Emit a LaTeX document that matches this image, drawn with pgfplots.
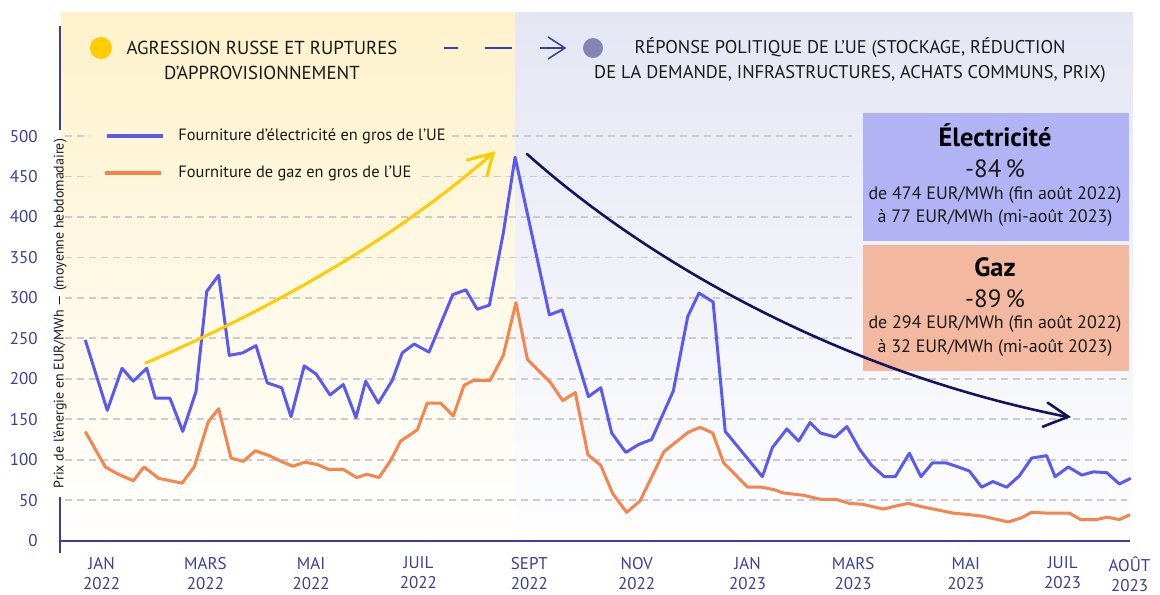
\documentclass[border=0pt]{standalone}
\usepackage{pgfplots}
\pgfplotsset{compat=1.18}
\usepackage{fontspec}
\setmainfont{PT Sans}
\definecolor{navy}{RGB}{59,62,154}
\definecolor{elec}{RGB}{90,90,242}
\definecolor{gas}{RGB}{245,132,77}
\definecolor{ylw}{RGB}{255,204,0}
\definecolor{darknavy}{RGB}{20,20,90}
\definecolor{elecbox}{RGB}{178,179,245}
\definecolor{gasbox}{RGB}{242,184,160}
\definecolor{purp}{RGB}{131,133,181}
\definecolor{ybg}{RGB}{254,242,203}
\definecolor{bbg}{RGB}{228,230,243}
\definecolor{gridc}{RGB}{204,204,204}
\definecolor{txt}{RGB}{26,26,26}
\begin{document}
\begin{tikzpicture}
\begin{scope}[x=0.5pt,y=-0.5pt]
\path[use as bounding box] (0,0) rectangle (1160,594);
\shade[top color=ybg, bottom color=white] (61,12) rectangle (515,545);
\shade[top color=bbg, bottom color=white!97!bbg] (515,12) rectangle (1133,545);
\end{scope}
\begin{axis}[
  at={(30pt,-270.3pt)}, anchor=south west,
  scale only axis, width=541.8pt, height=264.55pt,
  xmin=-9.659, xmax=606, ymin=0, ymax=654,
  axis line style={draw=none},
  major tick length=0pt,
  ytick={0,50,...,500},
  /pgf/number format/assume math mode=true,
  yticklabel style={font=\fontsize{8.5}{10}\selectfont, text=navy, anchor=east, inner sep=0pt, xshift=-11pt},
  xtick={14,73,133,194,257,318,381,441,505,560,598},
  xticklabels={JAN\\2022,MARS\\2022,MAI\\2022,JUIL\\2022,SEPT\\2022,NOV\\2022,JAN\\2023,MARS\\2023,MAI\\2023,JUIL\\2023,AOÛT\\2023},
  xticklabel style={font=\fontsize{8.5}{10}\selectfont, text=navy, align=center, anchor=north, inner sep=0pt, yshift=-8pt},
  clip=false,
]
% grid lines
\pgfplotsinvokeforeach{50,100,150,200}{
  \draw[gridc, line width=0.9pt, dash pattern=on 3.5pt off 2.5pt] (axis cs:-6.8,#1) -- (axis cs:596.6,#1);}
\pgfplotsinvokeforeach{250,300,350,400}{
  \draw[gridc, line width=0.9pt, dash pattern=on 3.5pt off 2.5pt] (axis cs:-6.8,#1) -- (axis cs:440.3,#1);}
\draw[gridc, line width=0.9pt, dash pattern=on 3.5pt off 2.5pt] (axis cs:-6.8,450) -- (axis cs:7.4,450);
\draw[gridc, line width=0.9pt, dash pattern=on 3.5pt off 2.5pt] (axis cs:196,450) -- (axis cs:440.3,450);
\draw[gridc, line width=0.9pt, dash pattern=on 3.5pt off 2.5pt] (axis cs:-6.8,500) -- (axis cs:7.4,500);
\draw[gridc, line width=0.9pt, dash pattern=on 3.5pt off 2.5pt] (axis cs:213,500) -- (axis cs:440.3,500);
% electricity
\addplot[elec, line width=1.5pt, line join=round] coordinates {
(4.7,248) (17.2,161) (25.6,213) (32.0,197) (39.6,213) (44.5,176) (52.8,176) (60.1,135) (67.6,184) (73.7,308) (80.5,328) (86.5,229) (94.1,232) (101.7,241) (108.1,195) (116.3,189) (121.6,153) (129.1,216) (135.8,206) (143.8,180) (151.3,193) (158.5,152) (164.0,197) (171.2,170) (179.1,198) (184.8,232) (191.5,243) (200.0,233) (213.5,304) (220.9,310) (227.4,286) (234.3,291) (242.2,380) (248.9,474) (268.4,279) (275.6,285) (290.6,178) (297.6,189) (303.8,133) (311.8,109) (319.3,119) (326.5,125) (338.8,185) (347.0,277) (353.4,306) (361.4,295) (368.3,135) (389.4,79) (395.1,115) (403.3,138) (410.0,123) (416.5,146) (422.4,133) (430.8,128) (437.4,141) (444.6,113) (451.5,93) (458.7,79) (464.9,79) (472.9,108) (479.5,79) (486.0,96) (493.8,96) (500.7,91) (507.0,86) (514.0,66) (520.3,73) (528.2,66) (535.4,80) (542.4,102) (550.9,105) (555.7,79) (563.2,91) (570.9,81) (577.4,85) (585.1,84) (592.2,70) (598.7,77)
};
% gas
\addplot[gas, line width=1.5pt, line join=round] coordinates {
(4.7,135) (16.1,91) (23.5,82) (32.0,74) (38.1,91) (46.4,77) (59.7,71) (66.6,91) (74.6,147) (80.5,163) (87.5,102) (94.5,98) (101.3,111) (109.3,105) (115.9,98) (122.6,92) (129.5,97) (136.5,94) (143.0,88) (151.3,88) (158.9,78) (164.6,82) (171.6,78) (178.2,99) (183.9,123) (193.4,137) (199.0,170) (206.6,170) (213.8,154) (219.9,192) (225.2,198) (234.7,198) (242.2,229) (249.4,294) (255.9,224) (268.8,196) (276.0,173) (283.1,183) (290.3,106) (297.6,93) (304.4,58) (312.3,35) (319.9,49) (333.5,110) (347.3,134) (354.0,140) (361.2,133) (367.4,96) (381.1,66) (388.8,66) (396.0,63) (401.1,59) (412.8,56) (422.4,51) (431.4,51) (438.8,46) (446.0,45) (458.1,39) (465.7,43) (472.2,46) (479.9,42) (486.5,39) (497.9,34) (507.4,32) (514.9,30) (529.1,23) (536.4,28) (542.4,35) (550.9,34) (563.8,34) (570.3,26) (579.4,26) (585.4,29) (592.2,26) (598.3,32)
};
\end{axis}
\begin{scope}[x=0.5pt,y=-0.5pt]
% axis lines
\draw[navy, line width=0.75pt] (60,541) -- (1130,541);
\draw[navy, line width=0.75pt] (60,26) -- (60,130);
\draw[navy, line width=0.75pt] (60,497) -- (60,553);
\node[rotate=90, font=\fontsize{7}{8}\selectfont, text=txt, inner sep=0pt] at (60,313.5) {Prix de l'énergie en EUR/MWh — (moyenne hebdomadaire)};
% legend
\draw[elec, line width=2pt] (107,136) -- (163,136);
\node[anchor=west, inner sep=0pt, font=\fontsize{8.2}{10}\selectfont, text=txt] at (178,136) {Fourniture d’électricité en gros de l’UE};
\draw[gas, line width=2pt] (105,173) -- (161,173);
\node[anchor=west, inner sep=0pt, font=\fontsize{8.2}{10}\selectfont, text=txt] at (178,173) {Fourniture de gaz en gros de l’UE};
% header
\fill[ylw] (101,48) circle (11);
\node[align=center, font=\fontsize{9.4}{12.5}\selectfont, text=txt, inner sep=0pt] at (262,60.5) {AGRESSION RUSSE ET RUPTURES\\D’APPROVISIONNEMENT};
\draw[navy, line width=0.75pt] (444,48) -- (458,48);
\draw[navy, line width=0.75pt] (485,48) -- (512,48);
\draw[navy, line width=0.75pt] (540,48) -- (565,48);
\draw[navy, line width=0.75pt] (548,37) -- (565,48) -- (548,59);
\fill[purp] (593,48) circle (10);
\node[align=center, font=\fontsize{9.2}{12.5}\selectfont, text=txt, inner sep=0pt] at (850,60.5) {RÉPONSE POLITIQUE DE L’UE (STOCKAGE, RÉDUCTION\\DE LA DEMANDE, INFRASTRUCTURES, ACHATS COMMUNS, PRIX)};
% boxes
\fill[elecbox] (863,113) rectangle (1129,241);
\fill[gasbox] (863,245) rectangle (1129,371);
\node[anchor=base, inner sep=0pt, font=\bfseries\fontsize{13.2}{15}\selectfont, text=black] at (995,146.5) {Électricité};
\node[anchor=base, inner sep=0pt, font=\fontsize{12.5}{13}\selectfont, text=txt] at (995,177) {-84\,\%};
\node[anchor=base, inner sep=0pt, font=\fontsize{9}{10}\selectfont, text=txt] at (995,199) {de 474 EUR/MWh (fin août 2022)};
\node[anchor=base, inner sep=0pt, font=\fontsize{9}{10}\selectfont, text=txt] at (995,222) {à 77 EUR/MWh (mi-août 2023)};
\node[anchor=base, inner sep=0pt, font=\bfseries\fontsize{13.2}{15}\selectfont, text=black] at (995,276.5) {Gaz};
\node[anchor=base, inner sep=0pt, font=\fontsize{12.5}{13}\selectfont, text=txt] at (995,307) {-89\,\%};
\node[anchor=base, inner sep=0pt, font=\fontsize{9}{10}\selectfont, text=txt] at (995,328) {de 294 EUR/MWh (fin août 2022)};
\node[anchor=base, inner sep=0pt, font=\fontsize{9}{10}\selectfont, text=txt] at (995,352) {à 32 EUR/MWh (mi-août 2023)};
% arrows
\draw[ylw, line width=1.5pt, line cap=round] (146,363) .. controls (280,305) and (400,235) .. (493,153);
\draw[ylw, line width=1.5pt, line cap=round, line join=miter] (467,160) -- (493.3,153.3) -- (487,176);
\draw[darknavy, line width=1.3pt, line cap=round] (527,154) .. controls (640,255) and (830,370) .. (1068,417);
\draw[darknavy, line width=1.3pt, line cap=round] (1047.7,402.7) -- (1068.3,416.7) -- (1042.7,426.7);
\end{scope}
\end{tikzpicture}
\end{document}
